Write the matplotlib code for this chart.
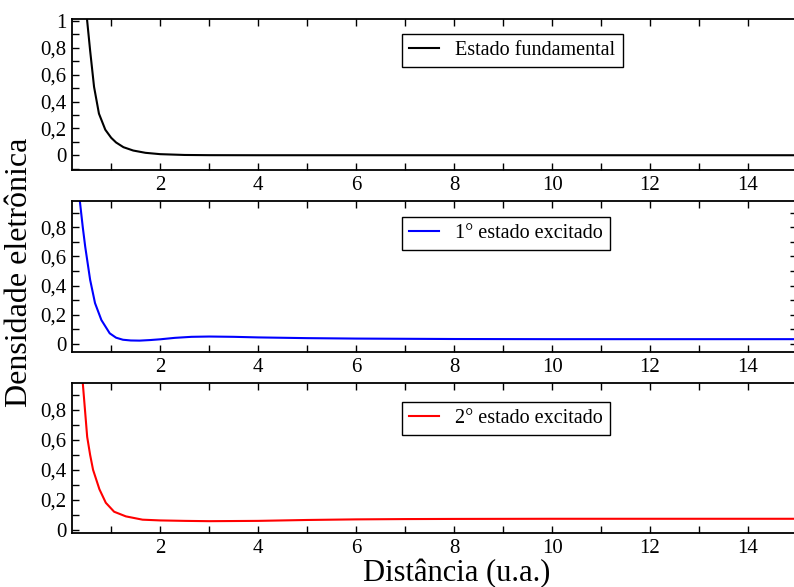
import numpy as np
import matplotlib
matplotlib.use('Agg')
import matplotlib.pyplot as plt
from matplotlib.ticker import MultipleLocator, FuncFormatter

plt.rcParams['font.family'] = ['Liberation Serif', 'DejaVu Serif']

# estado fundamental
x0 = [0.45, 0.51, 0.57, 0.65, 0.75, 0.88, 1.0, 1.1, 1.25, 1.45, 1.7, 2.0, 2.5, 3.0, 4.0, 6.0, 10.0, 15.0]
y0 = [1.25, 1.0, 0.78, 0.51, 0.31, 0.19, 0.13, 0.095, 0.06, 0.035, 0.018, 0.008, 0.002, 0.0005, 0.0, 0.0, 0.0, 0.0]

# 1o estado excitado
x1 = [0.33, 0.36, 0.42, 0.47, 0.57, 0.67, 0.8, 0.97, 1.1, 1.24, 1.4, 1.58, 1.8, 2.0, 2.3, 2.64, 3.0, 3.5, 4.0, 5.0, 6.0, 8.0, 10.0, 12.0, 15.0]
y1 = [1.1, 0.98, 0.8, 0.666, 0.44, 0.28, 0.164, 0.073, 0.043, 0.029, 0.024, 0.023, 0.027, 0.032, 0.042, 0.049, 0.051, 0.049, 0.045, 0.04, 0.037, 0.034, 0.033, 0.033, 0.033]

# 2o estado excitado
x2 = [0.39, 0.42, 0.47, 0.51, 0.57, 0.63, 0.76, 0.89, 1.06, 1.3, 1.64, 2.0, 2.5, 3.0, 4.0, 5.0, 6.0, 7.0, 8.0, 10.0, 12.0, 15.0]
y2 = [1.1, 0.98, 0.78, 0.62, 0.5, 0.4, 0.27, 0.18, 0.12, 0.089, 0.067, 0.062, 0.059, 0.057, 0.059, 0.065, 0.069, 0.071, 0.072, 0.073, 0.073, 0.073]

series = [(x0, y0, 'black', 'Estado fundamental'),
          (x1, y1, 'blue', '1° estado excitado'),
          (x2, y2, 'red', '2° estado excitado')]

W, H = 794, 587
fig = plt.figure(figsize=(W / 100, H / 100), dpi=100)

# panel boxes in pixels: (top, bottom)
boxes = [(19, 170), (201, 352), (383, 533)]
ylims = [(-0.11, 1.015), (-0.055, 0.98), (-0.022, 0.98)]
leg_pos = [(402, 34), (402, 217), (402, 402)]
left, right = 72, 797

fmt = FuncFormatter(lambda v, p: ('%g' % round(v, 2)).replace('.', ','))

for i, (xs, ys, c, lab) in enumerate(series):
    top, bot = boxes[i]
    ax = fig.add_axes([left / W, 1 - bot / H, (right - left) / W, (bot - top) / H])
    ax.plot(xs, ys, color=c, lw=1.5, label=lab)
    ax.set_xlim(0.2, 15)
    ax.set_ylim(*ylims[i])
    ax.xaxis.set_major_locator(MultipleLocator(2))
    ax.xaxis.set_minor_locator(MultipleLocator(1))
    ax.yaxis.set_major_locator(MultipleLocator(0.2))
    ax.yaxis.set_minor_locator(MultipleLocator(0.1))
    ax.yaxis.set_major_formatter(fmt)
    ax.tick_params(which='both', direction='in', top=True, bottom=True,
                   left=True, right=(i == 1), length=5, width=1, labelsize=15)
    ax.tick_params(axis='x', pad=4)
    ax.tick_params(axis='y', pad=4)
    for s in ax.spines.values():
        s.set_linewidth(1.3)
    lx, ly = leg_pos[i]
    leg = ax.legend(loc='upper left', bbox_to_anchor=(lx / W, 1 - ly / H),
                    bbox_transform=fig.transFigure, borderaxespad=0,
                    fancybox=False, framealpha=1, edgecolor='black',
                    fontsize=14.5, handlelength=1.5, handletextpad=0.8,
                    borderpad=0.35)
    leg.get_frame().set_linewidth(1.0)

fig.text(20 / W, 1 - 272 / H, 'Densidade eletrônica', rotation=90, ha='center', va='center', fontsize=23)
fig.text(457 / W, 1 - 581 / H, 'Distância (u.a.)', ha='center', va='baseline', fontsize=22)

fig.savefig('out.png', dpi=100)
